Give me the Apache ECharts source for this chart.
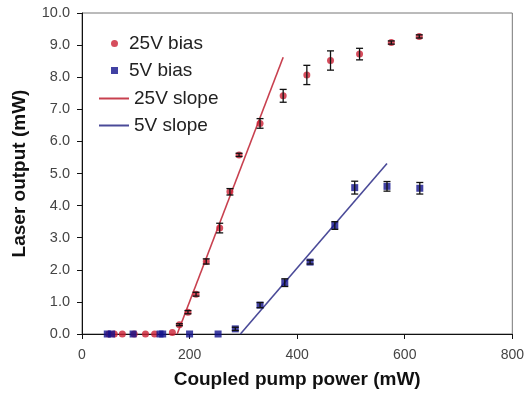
<!DOCTYPE html>
<html>
<head>
<meta charset="utf-8">
<script src="https://cdn.jsdelivr.net/npm/echarts@6/dist/echarts.min.js"></script>
<style>html,body{margin:0;padding:0;background:#fff}#c{width:527px;height:394px}</style>
</head>
<body>
<div id="c"></div>
<script>
// 25V bias data
const x25 = [50, 60, 75, 97, 118, 135, 168, 181, 197, 212, 231, 256, 275, 292, 331, 374, 418, 462, 516, 575, 627];
const y25 = [0, 0, 0, 0, 0, 0, 0.05, 0.29, 0.68, 1.24, 2.26, 3.30, 4.43, 5.58, 6.56, 7.42, 8.07, 8.52, 8.72, 9.08, 9.27];
const e25 = [0, 0, 0, 0, 0, 0, 0, 0.03, 0.05, 0.06, 0.08, 0.15, 0.10, 0.05, 0.15, 0.20, 0.30, 0.30, 0.18, 0.05, 0.05];
// 5V bias data
const x5 = [47, 55, 95, 145, 150, 200, 253, 285, 331, 377, 424, 470, 507, 567, 628];
const y5 = [0, 0, 0, 0, 0, 0, 0, 0.16, 0.90, 1.60, 2.24, 3.38, 4.56, 4.60, 4.54];
const e5 = [0, 0, 0, 0, 0, 0, 0, 0.05, 0.08, 0.12, 0.06, 0.12, 0.20, 0.15, 0.18];
// fitted slope lines (endpoints)
const slope25X = [177, 374];
const slope25Y = [0, 8.62];
const slope5X = [294.5, 567];
const slope5Y = [0, 5.31];
// axes
const xTicks = [0, 200, 400, 600, 800];
const yTicks = [0, 1, 2, 3, 4, 5, 6, 7, 8, 9, 10];

const pairs = (xs, ys) => xs.map((x, i) => [x, ys[i]]);
const errData = (xs, ys, es) => xs.map((x, i) => [x, ys[i] - es[i], ys[i] + es[i]]).filter((d, i) => es[i] > 0);

function errRender(params, api) {
  const x = api.value(0);
  const lo = api.coord([x, api.value(1)]);
  const hi = api.coord([x, api.value(2)]);
  const w = 3.5;
  const st = { stroke: '#111', lineWidth: 1.3 };
  return {
    type: 'group',
    children: [
      { type: 'line', shape: { x1: lo[0], y1: lo[1], x2: hi[0], y2: hi[1] }, style: st },
      { type: 'line', shape: { x1: lo[0] - w, y1: lo[1], x2: lo[0] + w, y2: lo[1] }, style: st },
      { type: 'line', shape: { x1: hi[0] - w, y1: hi[1], x2: hi[0] + w, y2: hi[1] }, style: st }
    ]
  };
}

const chart = echarts.init(document.getElementById('c'), null, { renderer: 'canvas' });
const font = 'Liberation Sans, Arial, sans-serif';
chart.setOption({
  animation: false,
  backgroundColor: '#fff',
  grid: { left: 82, right: 14, top: 13, bottom: 59, show: true, borderColor: '#777', borderWidth: 1 },
  legend: [
    {
      data: ['25V bias', '5V bias'],
      orient: 'vertical', left: 106, top: 29,
      itemWidth: 7, itemHeight: 7, itemGap: 8,
      textStyle: { fontFamily: font, fontSize: 19, color: '#222', lineHeight: 19, padding: [0, 0, 0, 6] }
    },
    {
      data: [{ name: '25V slope', icon: 'rect' }, { name: '5V slope', icon: 'rect' }],
      orient: 'vertical', left: 94, top: 84,
      itemWidth: 30, itemHeight: 2, itemGap: 8,
      textStyle: { fontFamily: font, fontSize: 19, color: '#222', lineHeight: 19 }
    }
  ],
  xAxis: {
    type: 'value', min: 0, max: 800, interval: 200,
    name: 'Coupled pump power (mW)', nameLocation: 'middle', nameGap: 36,
    nameTextStyle: { fontFamily: font, fontSize: 19, fontWeight: 'bold', color: '#111' },
    axisLine: { lineStyle: { color: '#111', width: 1 } },
    axisTick: { show: true, length: 5, lineStyle: { color: '#111' } },
    axisLabel: { fontFamily: font, fontSize: 14, color: '#444', margin: 14,
      formatter: v => xTicks.includes(v) ? String(v) : '' },
    splitLine: { show: false }
  },
  yAxis: {
    type: 'value', min: 0, max: 10, interval: 1,
    name: 'Laser output (mW)', nameLocation: 'middle', nameGap: 53,
    nameTextStyle: { fontFamily: font, fontSize: 19, fontWeight: 'bold', color: '#111' },
    axisLine: { show: true, lineStyle: { color: '#111', width: 1 } },
    axisTick: { show: true, length: 5, lineStyle: { color: '#111' } },
    axisLabel: { fontFamily: font, fontSize: 14.5, color: '#444', margin: 12,
      formatter: v => yTicks.includes(v) ? v.toFixed(1) : '' },
    splitLine: { show: false }
  },
  series: [
    {
      name: '25V slope', type: 'line', data: pairs(slope25X, slope25Y),
      showSymbol: false, symbol: 'none',
      lineStyle: { color: '#c8404f', width: 1.6 }, itemStyle: { color: '#c8404f' }, z: 2
    },
    {
      name: '5V slope', type: 'line', data: pairs(slope5X, slope5Y),
      showSymbol: false, symbol: 'none',
      lineStyle: { color: '#4a4a98', width: 1.6 }, itemStyle: { color: '#4a4a98' }, z: 2
    },
    {
      name: '25V bias', type: 'scatter', data: pairs(x25, y25),
      symbol: 'circle', symbolSize: 7, itemStyle: { color: '#cc2034' }, z: 3
    },
    {
      name: '5V bias', type: 'scatter', data: pairs(x5, y5),
      symbol: 'rect', symbolSize: 7, itemStyle: { color: '#12128c' }, z: 3
    },
    {
      name: 'err25', type: 'custom', renderItem: errRender, data: errData(x25, y25, e25),
      encode: { x: 0, y: [1, 2] }, z: 4, silent: true
    },
    {
      name: 'err5', type: 'custom', renderItem: errRender, data: errData(x5, y5, e5),
      encode: { x: 0, y: [1, 2] }, z: 4, silent: true
    }
  ]
});
</script>
</body>
</html>
